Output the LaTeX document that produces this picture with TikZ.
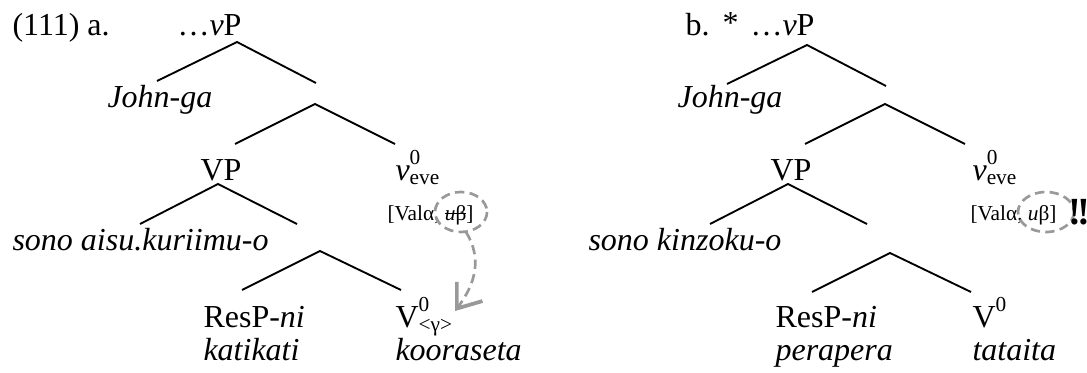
\documentclass[tikz,border=0pt,12pt]{standalone}
\usepackage{fontspec}
\setmainfont{Liberation Serif}
\usetikzlibrary{arrows.meta}
\newcommand{\supsub}[2]{\rlap{\raisebox{0.5em}{\scriptsize #1}}\raisebox{-0.15em}{\scriptsize #2}}
\newcommand{\strike}[1]{\sbox0{#1}\rlap{\rule[0.28em]{\wd0}{0.5pt}}#1}

\begin{document}
\begin{tikzpicture}[x=0.375pt,y=-0.375pt,
  lab/.style={anchor=base west,inner sep=0pt},
  mid/.style={anchor=base,inner sep=0pt},
  feat/.style={anchor=base west,inner sep=0pt,font=\scriptsize},
  ring/.style={draw=black!40,line width=1pt,dash pattern=on 3.5pt off 2pt},
  link/.style={line width=0.7pt}]
\useasboundingbox (0,0) rectangle (1087,372);
\foreach \v/\vx/\vy/\lx/\ly/\rx/\ry in {aT/237/42/157/81/316/83, aS/315/104/235/144/395/144,
    aV/218/184/140/224/297/224, aR/320/251/242/290/401/290,
    bT/807/45/727/84/886/86, bS/885/104/805/144/965/144,
    bV/788/184/710/224/867/224, bR/890/253/812/292/971/292}{
  \coordinate (\v) at (\vx,\vy);
  \coordinate (\v-l) at (\lx,\ly);
  \coordinate (\v-r) at (\rx,\ry);
  \draw[link] (\v-l) -- (\v) -- (\v-r);}
% (111a)
\node[lab] (numa) at (12,35) {(111) a.};
\node[lab] (topa) at (177,35) {…\textit{v}P};
\node[lab] (johna) at (107,107) {\textit{John-ga}};
\node[mid] (vpa) at (221,180) {VP};
\node[lab] (littlea) at (395,180) {\textit{v}\supsub{0}{eve}};
\node[feat] (feata) at (387,220) {[Valα, \strike{\textit{u}β}]};
\node[lab] (obja) at (12,250) {\textit{sono aisu.kuriimu-o}};
\node[lab] (resa) at (203,327) {ResP-\textit{ni}};
\node[lab] (adva) at (203,360) {\textit{katikati}};
\node[lab] (verba) at (395,327) {V\supsub{0}{<γ>}};
\node[lab] (forma) at (395,360) {\textit{kooraseta}};
\draw[ring] (461,212) ellipse [x radius=26, y radius=20];
\coordinate (ringa) at (466,232);
\coordinate (tipa) at (455,311);
\draw[ring,-{Straight Barb[length=8pt,width=12pt,line width=1.4pt]}] (ringa) .. controls (482,258) and (476,283) .. (tipa);
% (111b)
\node[lab] (numb) at (685,35) {b.};
\node[lab] (starb) at (722,33) {*};
\node[lab] (topb) at (750,35) {…\textit{v}P};
\node[lab] (johnb) at (677,107) {\textit{John-ga}};
\node[mid] (vpb) at (791,180) {VP};
\node[lab] (littleb) at (972,180) {\textit{v}\supsub{0}{eve}};
\node[feat] (featb) at (970,220) {[Valα, \textit{u}β]};
\draw[ring] (1046,212) ellipse [x radius=28, y radius=20];
\node[lab,font=\large\bfseries] (bangb) at (1068,224) {!\kern-1.5pt!};
\node[lab] (objb) at (588,250) {\textit{sono kinzoku-o}};
\node[lab] (resb) at (775,327) {ResP-\textit{ni}};
\node[lab] (advb) at (775,360) {\textit{perapera}};
\node[lab] (verbb) at (972,327) {V\supsub{0}{}};
\node[lab] (formb) at (972,360) {\textit{tataita}};
\end{tikzpicture}
\end{document}
